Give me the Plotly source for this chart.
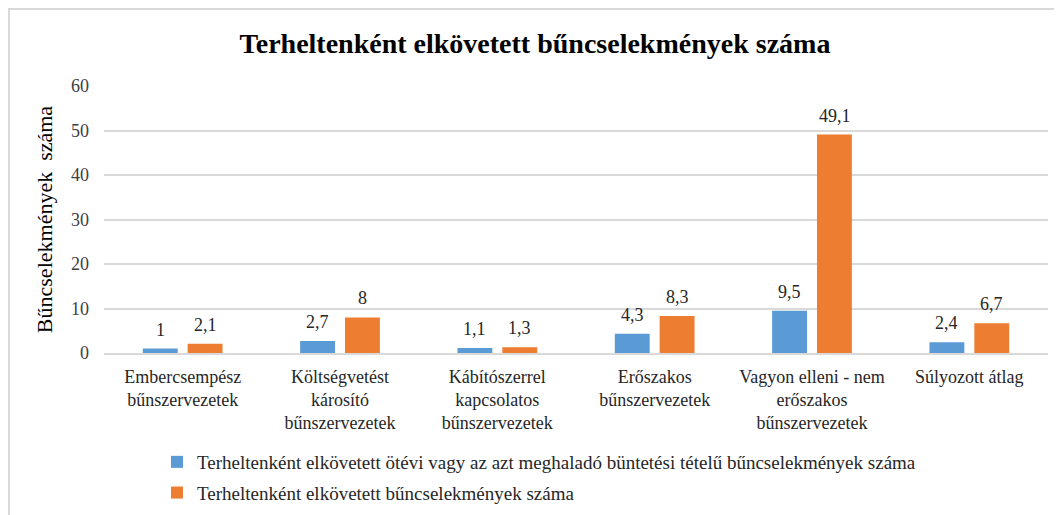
import plotly.graph_objects as go

categories = [
    "Embercsempész<br>bűnszervezetek",
    "Költségvetést<br>károsító<br>bűnszervezetek",
    "Kábítószerrel<br>kapcsolatos<br>bűnszervezetek",
    "Erőszakos<br>bűnszervezetek",
    "Vagyon elleni - nem<br>erőszakos<br>bűnszervezetek",
    "Súlyozott átlag",
]
series_blue_name = "Terheltenként elkövetett ötévi vagy az azt meghaladó büntetési tételű bűncselekmények száma"
series_orange_name = "Terheltenként elkövetett bűncselekmények száma"
blue_values = [1, 2.7, 1.1, 4.3, 9.5, 2.4]
orange_values = [2.1, 8, 1.3, 8.3, 49.1, 6.7]
y_ticks = [0, 10, 20, 30, 40, 50, 60]

# page body has an 8px default margin, so the figure is drawn 8px in from the corner
OFF = 8
W, H = 1062 - OFF, 515 - OFF
L, T = 104 - OFF, 86 - OFF
R = W - (1048 - OFF)
B = H - (353 - OFF)
PW = W - L - R
PH = H - T - B

FONT = "Liberation Serif, Times New Roman, serif"
BLUE = "#5B9BD5"
ORANGE = "#ED7D31"


def fmt(v):
    return ("%g" % v).replace(".", ",")


fig = go.Figure()
fig.add_trace(go.Bar(
    x=categories, y=blue_values, name=series_blue_name,
    marker=dict(color=BLUE, line=dict(width=0)), legendgroup="a",
))
fig.add_trace(go.Bar(
    x=categories, y=orange_values, name=series_orange_name,
    marker=dict(color=ORANGE, line=dict(width=0)), legendgroup="b",
))

annotations = []
for vals, shift in ((blue_values, -22.5), (orange_values, 22.5)):
    for c, v in zip(categories, vals):
        annotations.append(dict(
            x=c, y=v, xref="x", yref="y", text=fmt(v), showarrow=False,
            xshift=shift, yshift=19, yanchor="middle",
            font=dict(family=FONT, size=18, color="#262626"),
        ))

fig.update_layout(
    width=W, height=H,
    margin=dict(l=L, r=R, t=T, b=B, autoexpand=False),
    paper_bgcolor="white", plot_bgcolor="white",
    barmode="group", bargap=0.43, bargroupgap=0.222,
    title=dict(
        text="<b>Terheltenként elkövetett bűncselekmények száma</b>",
        x=0.5, xanchor="center", y=1 - (43 - OFF) / H, yanchor="middle",
        font=dict(family=FONT, size=28, color="#000000"),
    ),
    xaxis=dict(
        showgrid=False, showline=True, linecolor="#d9d9d9", linewidth=2,
        ticks="", tickfont=dict(family=FONT, size=18, color="#262626"),
        ticklabelstandoff=6, automargin=False,
    ),
    yaxis=dict(
        range=[0, 60], tickvals=y_ticks, showgrid=True, gridcolor="#d9d9d9",
        gridwidth=1.5, zeroline=False, showline=False, ticks="",
        tickfont=dict(family=FONT, size=18, color="#404040"),
        ticklabelstandoff=14, automargin=False,
        title=dict(text="Bűncselekmények\u00a0 száma",
                   font=dict(family=FONT, size=22, color="#000000"), standoff=12),
    ),
    showlegend=True,
    legend=dict(
        x=(157 - OFF - L) / PW, xanchor="left", y=(T + PH - (443 - OFF)) / PH, yanchor="top",
        orientation="v", font=dict(family=FONT, size=19, color="#262626"),
        tracegroupgap=3, itemwidth=30, bgcolor="rgba(0,0,0,0)",
    ),
    annotations=annotations,
    shapes=[dict(
        type="rect", xref="paper", yref="paper", layer="below",
        x0=(1 - L) / PW, x1=(1075 - L) / PW,
        y0=(T + PH - 530) / PH, y1=(T + PH - 1) / PH,
        line=dict(color="#d9d9d9", width=2), fillcolor="rgba(0,0,0,0)",
    )],
)

fig.write_html("out.html")
